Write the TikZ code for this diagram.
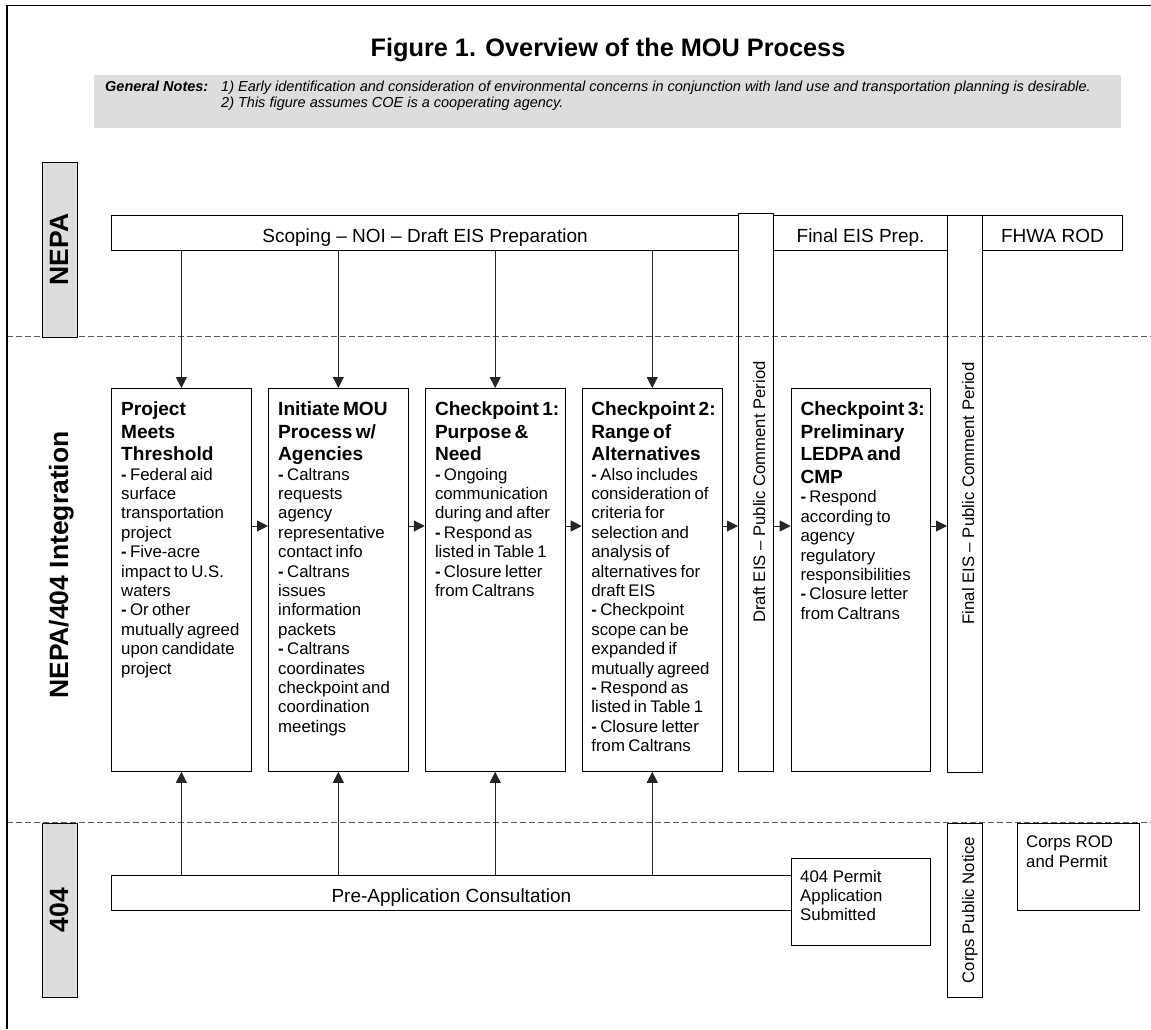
\documentclass[tikz,border=0pt]{standalone}
\usepackage{fontspec}
\setmainfont{Liberation Sans}
\usetikzlibrary{arrows.meta}
\definecolor{lgray}{HTML}{DDDDDD}
\newcommand\myTitleFont{\fontsize{25.3}{29}\selectfont\bfseries}
\newcommand\myBigFont{\fontsize{26.5}{30}\selectfont\bfseries}
\newcommand\myBarFont{\fontsize{19}{22}\selectfont}
\newcommand\myHead{\fontsize{19.1}{22.7}\selectfont\bfseries}
\newcommand\myBody{\fontsize{16.8}{19.4}\selectfont}
\newcommand\myVert{\fontsize{16.7}{19}\selectfont}
\newcommand\myNote{\fontsize{14.5}{16.5}\selectfont}
\begin{document}
\begin{tikzpicture}[x=1pt,y=-1pt,
  box/.style={draw=black, line width=1.1pt, inner sep=0pt, anchor=north west},
  gbox/.style={box, fill=lgray},
  bar/.style={box, font=\myBarFont, text height=19pt, text depth=0pt},
  btxt/.style={anchor=north west, inner sep=0pt, text width=132pt, align=left},
  stxt/.style={anchor=north west, inner sep=0pt, align=left, font=\myBody},
  rot/.style={rotate=90, anchor=base, inner sep=0pt},
  arr/.style={draw=black!85, line width=1pt, -{Triangle[length=11pt,width=11pt]}},
  dline/.style={draw=black!65, line width=1pt, dash pattern=on 6pt off 3pt}]
\useasboundingbox (0,0) rectangle (1151,1029);

% notes and title
\node[anchor=north west, inner sep=0pt, fill=lgray, minimum width=1027pt, minimum height=53pt] (notes) at (94,75) {};
\node[anchor=base, inner sep=0pt, font=\myTitleFont] (title) at (608,56) {Figure 1. Overview of the MOU Process};
\node[anchor=base west, inner sep=0pt, font=\myNote\bfseries\itshape] (gn) at (105,91) {General Notes:};
\node[anchor=base west, inner sep=0pt, font=\myNote\itshape] (n1) at (221,91) {1) Early identification and consideration of environmental concerns in conjunction with land use and transportation planning is desirable.};
\node[anchor=base west, inner sep=0pt, font=\myNote\itshape] (n2) at (221,107) {2) This figure assumes COE is a cooperating agency.};

% dashed lane separators
\draw[dline] (6.9,336.7) -- (1151,336.7);
\draw[dline] (6.9,822.7) -- (1151,822.7);

% lane labels
\node[gbox, minimum width=35pt, minimum height=174.7pt] (nepa) at (42,162) {};
\node[rot, font=\myBigFont] (nepat) at (68,249.5) {NEPA};
\node[rot, font=\myBigFont] (integ) at (68,565) {NEPA/404 Integration};
\node[gbox, minimum width=35pt, minimum height=174.5pt] (lab404) at (42,822.7) {};
\node[rot, font=\myBigFont] (t404) at (68,910) {404};

% NEPA bars
\node[bar, minimum width=627pt, minimum height=35pt] (scop) at (111,215) {Scoping -- NOI -- Draft EIS Preparation};
\node[bar, minimum width=174pt, minimum height=35pt] (feis) at (773,215) {Final EIS Prep.};
\node[bar, minimum width=139.7pt, minimum height=35pt] (rod) at (982,215) {FHWA ROD};

% vertical comment periods
\node[box, minimum width=35pt, minimum height=557.7pt] (dcp) at (738,213) {};
\node[rot, font=\myVert] (dcpt) at (765,492) {Draft EIS -- Public Comment Period};
\node[box, minimum width=35pt, minimum height=557pt] (fcp) at (947,215) {};
\node[rot, font=\myVert] (fcpt) at (974,493.5) {Final EIS -- Public Comment Period};

% checkpoint boxes
\node[box, minimum width=139.7pt, minimum height=382.7pt] (b1) at (111,388) {};
\node[box, minimum width=139.6pt, minimum height=382.7pt] (b2) at (268,388) {};
\node[box, minimum width=139.7pt, minimum height=382.7pt] (b3) at (424.8,388) {};
\node[box, minimum width=140pt, minimum height=382.7pt] (b4) at (581.7,388) {};
\node[box, minimum width=139.3pt, minimum height=382.7pt] (b5) at (790.7,388) {};

\node[btxt] (b1t) at (121,401.3) {{\myHead Project\\Meets\\Threshold\par}{\myBody\textbf{-} Federal aid\\surface\\transportation\\project\\\textbf{-} Five-acre\\impact to U.S.\\waters\\\textbf{-} Or other\\mutually agreed\\upon candidate\\project\par}};
\node[btxt] (b2t) at (278,401.3) {{\myHead Initiate MOU\\Process w/\\Agencies\par}{\myBody\textbf{-} Caltrans\\requests\\agency\\representative\\contact info\\\textbf{-} Caltrans\\issues\\information\\packets\\\textbf{-} Caltrans\\coordinates\\checkpoint and\\coordination\\meetings\par}};
\node[btxt] (b3t) at (434.8,401.3) {{\myHead Checkpoint 1:\\Purpose \&\\Need\par}{\myBody\textbf{-} Ongoing\\communication\\during and after\\\textbf{-} Respond as\\listed in Table 1\\\textbf{-} Closure letter\\from Caltrans\par}};
\node[btxt] (b4t) at (591.2,401.3) {{\myHead Checkpoint 2:\\Range of\\Alternatives\par}{\myBody\textbf{-} Also includes\\consideration of\\criteria for\\selection and\\analysis of\\alternatives for\\draft EIS\\\textbf{-} Checkpoint\\scope can be\\expanded if\\mutually agreed\\\textbf{-} Respond as\\listed in Table 1\\\textbf{-} Closure letter\\from Caltrans\par}};
\node[btxt] (b5t) at (800.3,401.3) {{\myHead Checkpoint 3:\\Preliminary\\LEDPA and\\CMP\par}{\myBody\textbf{-} Respond\\according to\\agency\\regulatory\\responsibilities\\\textbf{-} Closure letter\\from Caltrans\par}};

% 404 lane
\node[box, minimum width=679.7pt, minimum height=34.4pt, font=\myBarFont, text height=19pt, text depth=0pt] (pre) at (111,875.3) {Pre-Application Consultation};
\node[box, minimum width=139.6pt, minimum height=87.3pt] (perm) at (790.7,857.7) {};
\node[stxt] (permt) at (800,869.7) {404 Permit\\Application\\Submitted};
\node[box, minimum width=35pt, minimum height=174.3pt] (cpn) at (947.3,822.7) {};
\node[rot, font=\myVert] (cpnt) at (974,910) {Corps Public Notice};
\node[box, minimum width=122.6pt, minimum height=87pt] (crod) at (1016.7,822.7) {};
\node[stxt] (crodt) at (1026,836) {Corps ROD\\and Permit};

% connectors
\coordinate (hy) at (0,526);
\draw[arr] (scop.south -| b1.north) -- (b1.north);
\draw[arr] (scop.south -| b2.north) -- (b2.north);
\draw[arr] (scop.south -| b3.north) -- (b3.north);
\draw[arr] (scop.south -| b4.north) -- (b4.north);
\draw[arr] (pre.north -| b1.south) -- (b1.south);
\draw[arr] (pre.north -| b2.south) -- (b2.south);
\draw[arr] (pre.north -| b3.south) -- (b3.south);
\draw[arr] (pre.north -| b4.south) -- (b4.south);
\draw[arr] (b1.east |- hy) -- (b2.west |- hy);
\draw[arr] (b2.east |- hy) -- (b3.west |- hy);
\draw[arr] (b3.east |- hy) -- (b4.west |- hy);
\draw[arr] (b4.east |- hy) -- (dcp.west |- hy);
\draw[arr] (dcp.east |- hy) -- (b5.west |- hy);
\draw[arr] (b5.east |- hy) -- (fcp.west |- hy);

% frame
\draw[line width=1.4pt] (6.9,1029) -- (6.9,5.7) -- (1151,5.7);
\end{tikzpicture}
\end{document}
